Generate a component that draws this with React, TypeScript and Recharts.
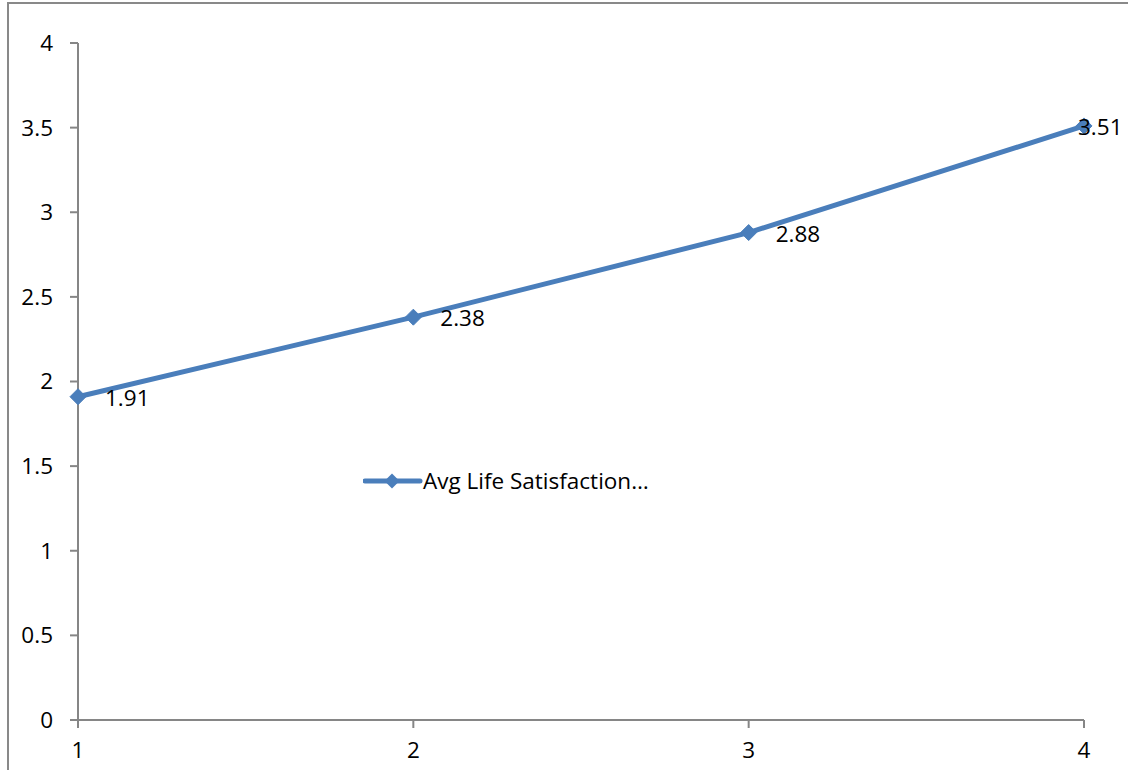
import { LineChart, Line, XAxis, YAxis, Legend, LabelList } from "recharts";

const categories = [1, 2, 3, 4];
const satisfaction = [1.91, 2.38, 2.88, 3.51];
const yTicks = [0, 0.5, 1, 1.5, 2, 2.5, 3, 3.5, 4];
const seriesName = "Avg Life Satisfaction…";

const data = categories.map((c, i) => ({ cat: c, value: satisfaction[i] }));

const BLUE = "#4A7EBB";
const AXIS = "#868686";
const FONT = "'Open Sans', sans-serif";
const FS = 22.5;

function Diamond(props: any) {
  const { cx, cy } = props;
  if (cx == null || cy == null) return null;
  const r = 8;
  return (
    <polygon
      points={`${cx},${cy - r} ${cx + r},${cy} ${cx},${cy + r} ${cx - r},${cy}`}
      fill={BLUE}
      stroke={BLUE}
    />
  );
}

// value labels sit to the right of each point, last one is pulled back inside
function ValueLabel(props: any) {
  const { x, y, value, index } = props;
  const last = index === categories.length - 1;
  return (
    <text
      x={last ? x - 6 : x + 27}
      y={y + 9}
      fontSize={FS}
      fontFamily={FONT}
      fill="#000"
    >
      {value}
    </text>
  );
}

// zero-height wrapper so the legend doesn't eat into the plot area
function LegendContent() {
  return (
    <div style={{ position: "relative", height: 0 }}>
      <svg width={340} height={30} style={{ position: "absolute", left: 0, top: 0 }}>
        <line x1={2} y1={15} x2={57} y2={15} stroke={BLUE} strokeWidth={5} strokeLinecap="round" />
        <polygon points="29,7.5 36.5,15 29,22.5 21.5,15" fill={BLUE} />
        <text x={60} y={23} fontSize={FS} fontFamily={FONT} fill="#000">
          {seriesName}
        </text>
      </svg>
    </div>
  );
}

export default function App() {
  return (
    <div
      style={{
        position: "absolute",
        left: 0,
        top: 0,
        width: 1128,
        height: 770,
        overflow: "hidden",
        background: "#fff",
      }}
    >
      <div
        style={{
          position: "absolute",
          left: 7,
          top: 2,
          width: 1200,
          height: 800,
          border: "2px solid #898989",
        }}
      />
      <div style={{ position: "absolute", left: 0, top: 0 }}>
        <LineChart
          width={1128}
          height={770}
          data={data}
          margin={{ top: 43, right: 44, left: 8, bottom: 0 }}
        >
          <XAxis
            dataKey="cat"
            type="number"
            domain={[1, 4]}
            ticks={categories}
            height={50}
            stroke={AXIS}
            strokeWidth={2}
            tickSize={8}
            tickMargin={14}
            tick={{ fill: "#000", fontSize: FS, fontFamily: FONT }}
          />
          <YAxis
            domain={[0, 4]}
            ticks={yTicks}
            width={70}
            stroke={AXIS}
            strokeWidth={2}
            tickSize={8}
            tickMargin={17}
            tick={{ fill: "#000", fontSize: FS, fontFamily: FONT }}
          />
          <Legend
            content={<LegendContent />}
            wrapperStyle={{ position: "absolute", left: 363, top: 466, width: 340, height: 0 }}
          />
          <Line
            dataKey="value"
            name={seriesName}
            stroke={BLUE}
            strokeWidth={5}
            dot={<Diamond />}
            activeDot={false}
            isAnimationActive={false}
          >
            <LabelList dataKey="value" content={<ValueLabel />} />
          </Line>
        </LineChart>
      </div>
    </div>
  );
}
